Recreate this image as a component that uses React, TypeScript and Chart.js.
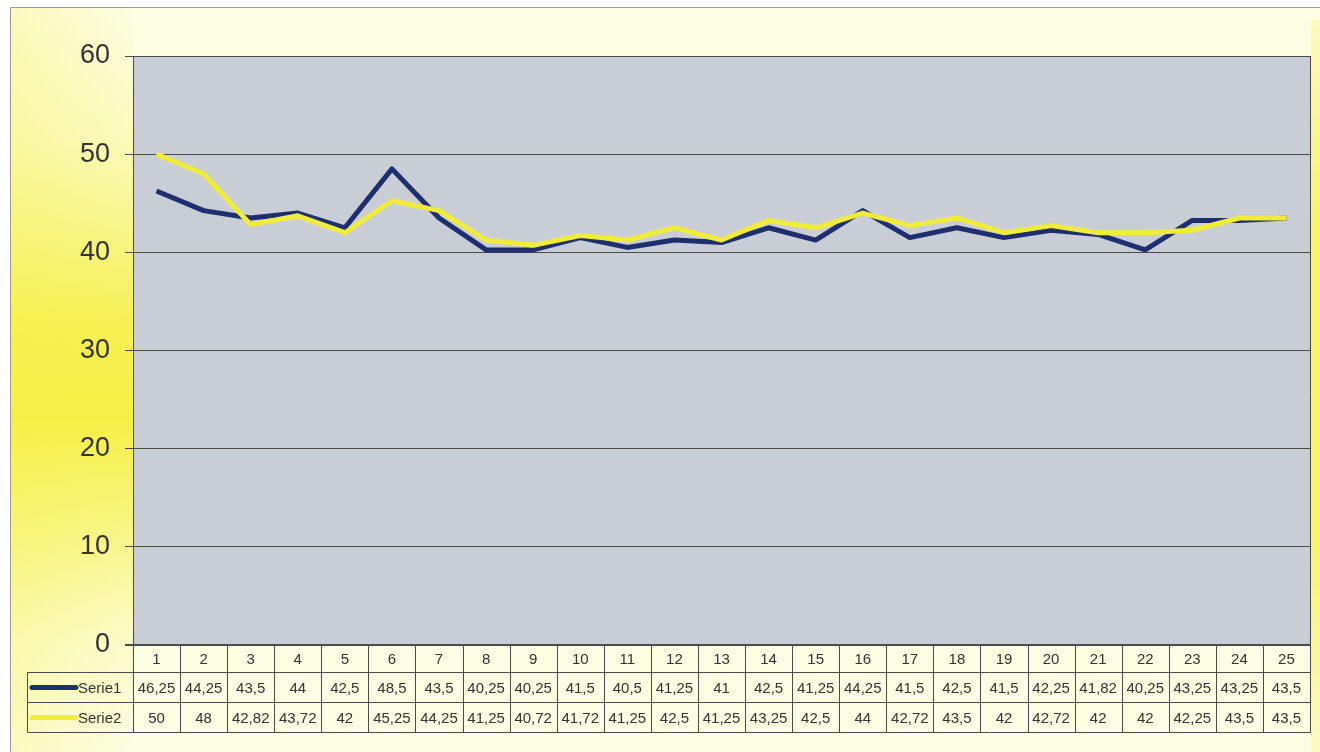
import React, { useEffect, useRef } from "react";
import { Chart, registerables } from "chart.js";

Chart.register(...registerables);

const categories = ["1","2","3","4","5","6","7","8","9","10","11","12","13","14","15","16","17","18","19","20","21","22","23","24","25"];
const serie1 = [46.25,44.25,43.5,44,42.5,48.5,43.5,40.25,40.25,41.5,40.5,41.25,41,42.5,41.25,44.25,41.5,42.5,41.5,42.25,41.82,40.25,43.25,43.25,43.5];
const serie2 = [50,48,42.82,43.72,42,45.25,44.25,41.25,40.72,41.72,41.25,42.5,41.25,43.25,42.5,44,42.72,43.5,42,42.72,42,42,42.25,43.5,43.5];
const seriesNames = ["Serie1", "Serie2"];
const yTicks = [0, 10, 20, 30, 40, 50, 60];

const FONT = "'Liberation Sans', Arial, Helvetica, sans-serif";
const NAVY = "#1f2e6e";
const YELLOW = "#f1ec3a";
const PALE = "#fcfde3";
const PLOT_BG = "#c9cdd6";
const LINE_C = "#4a4a4a";
const TEXT_C = "#333333";

const fmt = (v: number) => String(v).replace(".", ",");

const decorPlugin = {
  id: "decor",
  beforeDraw(chart: any) {
    const { ctx, width, height, chartArea } = chart;
    ctx.save();
    ctx.fillStyle = "#ffffff";
    ctx.fillRect(0, 0, width, height);
    // outer panel
    ctx.fillStyle = PALE;
    ctx.fillRect(10, 7, width - 10, height - 7);
    // left yellow strip (vertical gradient)
    const g = ctx.createLinearGradient(0, 7, 0, height);
    g.addColorStop(0, "rgba(246,240,70,0)");
    g.addColorStop(0.18, "rgba(246,240,70,0.25)");
    g.addColorStop(0.42, "rgba(245,238,60,0.85)");
    g.addColorStop(0.55, "rgba(245,238,60,0.95)");
    g.addColorStop(0.7, "rgba(246,240,70,0.6)");
    g.addColorStop(0.85, "rgba(246,240,70,0.15)");
    g.addColorStop(1, "rgba(246,240,70,0)");
    ctx.fillStyle = g;
    ctx.fillRect(10, 7, chartArea.left - 10, height - 7);
    // extra left-edge glow
    const h = ctx.createLinearGradient(10, 0, chartArea.left, 0);
    h.addColorStop(0, "rgba(246,240,70,0.25)");
    h.addColorStop(1, "rgba(246,240,70,0)");
    ctx.fillStyle = h;
    ctx.fillRect(10, 7, chartArea.left - 10, height - 7);
    // right yellow strip
    const r = ctx.createLinearGradient(0, 7, 0, height);
    r.addColorStop(0, "rgba(246,240,80,0.2)");
    r.addColorStop(0.3, "rgba(246,240,80,0.8)");
    r.addColorStop(0.7, "rgba(246,240,80,0.8)");
    r.addColorStop(1, "rgba(246,240,80,0.2)");
    ctx.fillStyle = r;
    ctx.fillRect(chartArea.right + 1, 20, width - chartArea.right - 1, height - 20);
    // border lines
    ctx.strokeStyle = "#9a9a9a";
    ctx.lineWidth = 1;
    ctx.beginPath();
    ctx.moveTo(10.5, height);
    ctx.lineTo(10.5, 7.5);
    ctx.lineTo(width, 7.5);
    ctx.stroke();
    // plot background
    ctx.fillStyle = PLOT_BG;
    ctx.fillRect(chartArea.left, chartArea.top, chartArea.right - chartArea.left, chartArea.bottom - chartArea.top);
    ctx.restore();
  },
  afterDraw(chart: any) {
    const { ctx, chartArea } = chart;
    const xs = chart.scales.x;
    const left = chartArea.left;
    const right = chartArea.right;
    const n = categories.length;
    const w = (right - left) / n;
    const top = chartArea.bottom;
    const r1 = top + 27.5;
    const r2 = r1 + 30;
    const r3 = r2 + 30;
    const tableLeft = 27.5;
    ctx.save();
    // plot frame right + bottom
    ctx.strokeStyle = LINE_C;
    ctx.lineWidth = 1;
    ctx.beginPath();
    ctx.moveTo(Math.round(right) + 0.5, chartArea.top);
    ctx.lineTo(Math.round(right) + 0.5, r3);
    ctx.stroke();
    ctx.lineWidth = 2;
    ctx.beginPath();
    ctx.moveTo(left - 8, top);
    ctx.lineTo(right, top);
    ctx.stroke();
    // table lines
    ctx.lineWidth = 1;
    ctx.beginPath();
    for (let k = 0; k <= n; k++) {
      const x = Math.round(left + k * w) + 0.5;
      ctx.moveTo(x, top);
      ctx.lineTo(x, r3);
    }
    [r1, r2, r3].forEach((y) => {
      ctx.moveTo(tableLeft, y);
      ctx.lineTo(right, y);
    });
    ctx.moveTo(tableLeft, r1);
    ctx.lineTo(tableLeft, r3);
    ctx.stroke();
    // values
    ctx.fillStyle = TEXT_C;
    ctx.font = `15px ${FONT}`;
    ctx.textAlign = "center";
    ctx.textBaseline = "middle";
    const rows = [serie1, serie2];
    const rowY = [(r1 + r2) / 2 + 1, (r2 + r3) / 2 + 1];
    rows.forEach((vals, ri) => {
      vals.forEach((v, i) => {
        const cx = xs.getPixelForValue(i);
        ctx.fillText(fmt(v), cx, rowY[ri]);
      });
    });
    // legend keys
    const colors = [NAVY, YELLOW];
    seriesNames.forEach((name, ri) => {
      ctx.strokeStyle = colors[ri];
      ctx.lineWidth = 5;
      ctx.lineCap = "round";
      ctx.beginPath();
      ctx.moveTo(32, rowY[ri] - 1);
      ctx.lineTo(76, rowY[ri] - 1);
      ctx.stroke();
      ctx.fillStyle = TEXT_C;
      ctx.textAlign = "left";
      ctx.fillText(name, 78, rowY[ri]);
    });
    ctx.restore();
  },
};

export default function App() {
  const ref = useRef<HTMLCanvasElement | null>(null);
  useEffect(() => {
    if (!ref.current) return;
    const chart = new Chart(ref.current, {
      type: "line",
      data: {
        labels: categories,
        datasets: [
          {
            label: seriesNames[0],
            data: serie1,
            borderColor: NAVY,
            borderWidth: 5,
            pointRadius: 0,
            tension: 0,
            order: 1,
            borderJoinStyle: "round",
          },
          {
            label: seriesNames[1],
            data: serie2,
            borderColor: YELLOW,
            borderWidth: 5,
            pointRadius: 0,
            tension: 0,
            order: 0,
            borderJoinStyle: "round",
          },
        ],
      },
      options: {
        animation: false,
        responsive: false,
        layout: { padding: { left: 10, top: 56, right: 10, bottom: 80 } },
        plugins: { legend: { display: false }, tooltip: { enabled: false } },
        scales: {
          x: {
            type: "category",
            offset: true,
            grid: { display: false, drawTicks: false },
            border: { display: false },
            ticks: { color: TEXT_C, font: { family: FONT, size: 15 }, padding: 6, maxRotation: 0, autoSkip: false },
            afterFit: (s: any) => { s.height = 27; },
          },
          y: {
            min: 0,
            max: 60,
            afterBuildTicks: (s: any) => { s.ticks = yTicks.map((v) => ({ value: v })); },
            grid: { color: LINE_C, lineWidth: 1, tickLength: 8 },
            border: { color: LINE_C, width: 1 },
            ticks: { color: TEXT_C, font: { family: FONT, size: 27 }, padding: 15 },
            afterFit: (s: any) => { s.width = 123; },
          },
        },
      },
      plugins: [decorPlugin],
    } as any);
    return () => chart.destroy();
  }, []);
  return (
    <div style={{ position: "fixed", left: 0, top: 0, width: 1320, height: 752 }}>
      <canvas ref={ref} width={1320} height={752} style={{ display: "block" }} />
    </div>
  );
}
